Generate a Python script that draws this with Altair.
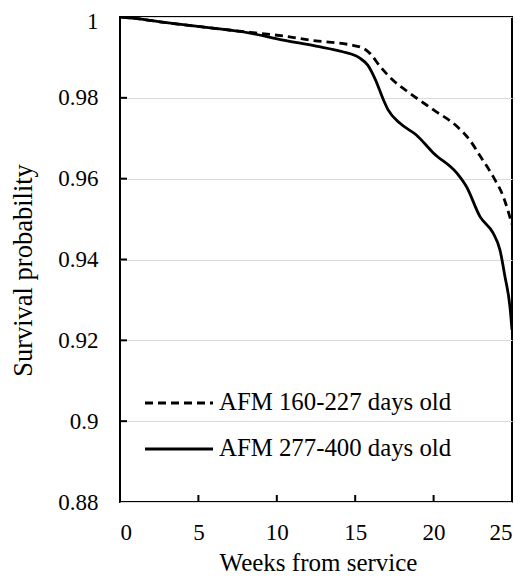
import altair as alt
import pandas as pd

# Data
series_names = ["AFM 160-227 days old", "AFM 277-400 days old"]

weeks_young = [0, 0.85, 2.55, 5.1, 8.3, 10.4, 12.5, 14.7, 15.5, 15.94, 16.6, 17.4,
               18.5, 20.0, 21.5, 22.3, 23.0, 23.8, 24.45, 25]
surv_young = [1.0, 0.9997, 0.9988, 0.9976, 0.9962, 0.9953, 0.9941,
              0.9931, 0.9923, 0.9910, 0.9877, 0.9844, 0.9811, 0.9770, 0.9729, 0.9696,
              0.9654, 0.9605, 0.9555, 0.9487]

weeks_old = [0, 0.85, 2.55, 5.1, 8.3, 10.4, 12.5, 14.2, 15.3, 15.8, 16.3, 16.8, 17.1,
             17.86, 18.9, 20.0, 21.5, 22.1, 22.96, 23.8, 24.23, 24.55, 24.87, 25]
surv_old = [1.0, 0.9997, 0.9988, 0.9976, 0.9960, 0.9943, 0.9928, 0.9914, 0.9898,
            0.9881, 0.9844, 0.9795, 0.9770, 0.9737, 0.9708, 0.9663, 0.9613, 0.9580,
            0.9506, 0.9465, 0.9424, 0.9358, 0.9283, 0.9226]

x_ticks = [0, 5, 10, 15, 20, 25]
y_ticks = [0.88, 0.9, 0.92, 0.94, 0.96, 0.98, 1.0]

FONT = "Liberation Serif"
W, H = 392, 485

df_y = pd.DataFrame({"week": weeks_young, "surv": surv_young, "series": series_names[0]})
df_o = pd.DataFrame({"week": weeks_old, "surv": surv_old, "series": series_names[1]})

xscale = alt.Scale(domain=[0, 25], nice=False, zero=False)
yscale = alt.Scale(domain=[0.88, 1.0], nice=False, zero=False)

x_enc = alt.X("week:Q", scale=xscale, axis=alt.Axis(
    values=x_ticks, title="Weeks  from service", grid=False, ticks=False, domain=False,
    labelFont=FONT, labelFontSize=23, labelColor="black", labelPadding=19,
    titleFont=FONT, titleFontSize=25, titleFontWeight="normal", titleColor="black",
    titleX=198, titleY=68, titleBaseline="alphabetic", titleAnchor="middle"))
y_enc = alt.Y("surv:Q", scale=yscale, axis=alt.Axis(
    values=y_ticks, format="~g", title="Survival probability", grid=True,
    gridColor="#d9d9d9", gridWidth=1, ticks=False, domain=False,
    labelFont=FONT, labelFontSize=23, labelColor="black", labelPadding=22,
    labelOffset=alt.ExprRef(expr="datum.value == 1 ? 4 : 0"),
    titleFont=FONT, titleFontSize=26.5, titleFontWeight="normal", titleColor="black",
    titleX=-97, titleY=253, titleAngle=-90, titleBaseline="middle", titleAlign="center"))

line_young = alt.Chart(df_y).mark_line(
    color="black", strokeWidth=2.8, strokeDash=[8, 5], interpolate="monotone", clip=True
).encode(x=x_enc, y=y_enc)

line_old = alt.Chart(df_o).mark_line(
    color="black", strokeWidth=2.8, interpolate="monotone", clip=True
).encode(x=alt.X("week:Q", scale=xscale), y=alt.Y("surv:Q", scale=yscale))

# inward tick marks
xt = pd.DataFrame({"week": x_ticks[1:-1]})
yt = pd.DataFrame({"surv": y_ticks[1:-1]})
xtick_marks = alt.Chart(xt).mark_rule(color="black", strokeWidth=2).encode(
    x=alt.X("week:Q", scale=xscale), y=alt.value(H), y2=alt.value(H - 7))
ytick_marks = alt.Chart(yt).mark_rule(color="black", strokeWidth=2).encode(
    y=alt.Y("surv:Q", scale=yscale), x=alt.value(0), x2=alt.value(7))

# legend drawn inside the plot
leg_y = [386, 432]
legend_layers = []
for i, name in enumerate(series_names):
    dash = [8, 5] if i == 0 else [1, 0]
    legend_layers.append(
        alt.Chart(pd.DataFrame({"label": [name]})).mark_rule(
            color="black", strokeWidth=2.8, strokeDash=dash
        ).encode(x=alt.value(25), x2=alt.value(93), y=alt.value(leg_y[i]))
    )
    legend_layers.append(
        alt.Chart(pd.DataFrame({"label": [name]})).mark_text(
            font=FONT, fontSize=24.8, color="black", align="left", baseline="middle"
        ).encode(x=alt.value(99), y=alt.value(leg_y[i]), text="label:N")
    )

chart = alt.layer(
    line_young, line_old, xtick_marks, ytick_marks, *legend_layers
).properties(
    width=W, height=H,
    autosize=alt.AutoSizeParams(type="none"),
    padding={"left": 112, "top": 9, "right": 7, "bottom": 73},
).configure_view(stroke="black", strokeWidth=2)

chart.save("out.html", embed_options={"renderer": "svg", "actions": False})
